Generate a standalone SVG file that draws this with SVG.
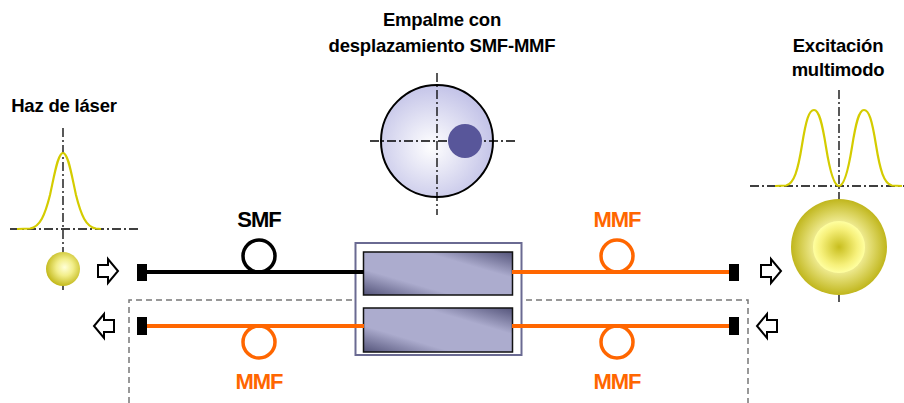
<svg xmlns="http://www.w3.org/2000/svg" width="904" height="403" viewBox="0 0 904 403">
  <defs>
    <style>
      .t { font-family: "Liberation Sans", Arial, sans-serif; font-weight: bold; font-size: 18.5px; letter-spacing: -0.2px; fill: #000; text-anchor: middle; }
      .lbl { font-size: 22px; letter-spacing: -1px; }
      .o { fill: #FF6600; }
      .axis { stroke: #000; stroke-width: 1.3; stroke-dasharray: 9 3 2 3; fill: none; }
      .curve { stroke: #D4CC00; stroke-width: 2.2; fill: none; }
      .blk { stroke: #000; stroke-width: 4; fill: none; }
      .org { stroke: #FF6600; stroke-width: 4; fill: none; }
      .arr { fill: #fff; stroke: #000; stroke-width: 2; stroke-linejoin: miter; }
      .plug { fill: #000; }
      .dash { stroke: #777; stroke-width: 1.5; stroke-dasharray: 6 4; fill: none; }
      .ferrule { fill: url(#ferr); stroke: #111; stroke-width: 1.5; }
    </style>
    <radialGradient id="spot" cx="0.55" cy="0.45" r="0.55">
      <stop offset="0" stop-color="#FFFFD8"/>
      <stop offset="0.45" stop-color="#F2EE8A"/>
      <stop offset="1" stop-color="#C4BA1E"/>
    </radialGradient>
    <radialGradient id="mmOuter" cx="0.5" cy="0.5" r="0.5">
      <stop offset="0.5" stop-color="#F2EE98"/>
      <stop offset="1" stop-color="#C0B61C"/>
    </radialGradient>
    <radialGradient id="mmInner" cx="0.5" cy="0.5" r="0.5">
      <stop offset="0" stop-color="#C8BE1E"/>
      <stop offset="0.7" stop-color="#F6F07A"/>
      <stop offset="1" stop-color="#FFFFA0"/>
    </radialGradient>
    <radialGradient id="splice" cx="0.45" cy="0.55" r="0.55">
      <stop offset="0" stop-color="#FFFFFF"/>
      <stop offset="1" stop-color="#C4C4E8"/>
    </radialGradient>
    <linearGradient id="ferr" x1="0" y1="1" x2="1" y2="0">
      <stop offset="0" stop-color="#54547A"/>
      <stop offset="0.3" stop-color="#ACACCE"/>
      <stop offset="0.7" stop-color="#ACACCE"/>
      <stop offset="1" stop-color="#54547A"/>
    </linearGradient>
  </defs>

  <rect width="904" height="403" fill="#fff"/>

  <!-- return path enclosure -->
  <path class="dash" d="M129 403 V300 H748 V403"/>

  <!-- laser beam profile -->
  <g id="laser">
    <text class="t" x="64" y="112">Haz de láser</text>
    <line class="axis" x1="63" y1="128" x2="63" y2="292"/>
    <line class="axis" x1="10" y1="229" x2="138" y2="229"/>
    <path class="curve" d="M17 229 L30 228.5 C40 227 45 215 50 195 C55 172 58 153 63 153 C68 153 71 172 76 195 C81 215 86 227 96 228.5 L101 229"/>
    <circle cx="63" cy="269" r="17" fill="url(#spot)"/>
  </g>

  <!-- offset splice cross-section -->
  <g id="splice-view">
    <text class="t" x="442" y="26">Empalme con</text>
    <text class="t" x="442" y="52">desplazamiento SMF-MMF</text>
    <circle cx="437" cy="141" r="56" fill="url(#splice)" stroke="#000" stroke-width="2"/>
    <line class="axis" x1="437" y1="73" x2="437" y2="215"/>
    <line class="axis" x1="370" y1="141" x2="515" y2="141"/>
    <circle cx="465" cy="141" r="17" fill="#58569A"/>
  </g>

  <!-- multimode excitation profile -->
  <g id="multimode">
    <text class="t" x="838" y="52">Excitación</text>
    <text class="t" x="838" y="76">multimodo</text>
    <line class="axis" x1="839" y1="90" x2="839" y2="302"/>
    <line class="axis" x1="750" y1="186" x2="904" y2="186"/>
    <path class="curve" d="M775 186 L786 185.5 C794 184 798 170 802 145 C806 120 809 110 814 110 C819 110 822 122 826 147 C830 172 834 186 839 186 C844 186 848 172 852 147 C856 122 859 110 864 110 C869 110 872 120 876 145 C880 170 884 184 892 185.5 L902 186"/>
    <circle cx="839" cy="247" r="48" fill="url(#mmOuter)"/>
    <circle cx="839" cy="247" r="26" fill="url(#mmInner)"/>
  </g>

  <!-- splice housing with two ferrules -->
  <g id="splice-box">
    <rect x="355.5" y="243" width="166" height="112" fill="#fff" stroke="#6A6A92" stroke-width="2"/>
    <rect class="ferrule" x="363.5" y="252" width="149" height="43"/>
    <rect class="ferrule" x="363.5" y="308" width="149" height="44"/>
  </g>

  <!-- fibres -->
  <g id="connectors">
    <line class="blk" x1="146" y1="272" x2="364" y2="272"/>
    <circle cx="259" cy="256" r="16" fill="none" stroke="#000" stroke-width="3.5"/>
    <line class="org" x1="512" y1="272" x2="731" y2="272"/>
    <circle cx="617" cy="256" r="16" fill="none" stroke="#FF6600" stroke-width="3.5"/>
    <line class="org" x1="146" y1="326" x2="364" y2="326"/>
    <circle cx="259" cy="342" r="16" fill="none" stroke="#FF6600" stroke-width="3.5"/>
    <line class="org" x1="512" y1="326" x2="731" y2="326"/>
    <circle cx="617" cy="342" r="16" fill="none" stroke="#FF6600" stroke-width="3.5"/>
    <rect class="plug" x="137" y="264" width="10" height="17"/>
    <rect class="plug" x="137" y="317" width="10" height="18"/>
    <rect class="plug" x="729" y="264" width="10" height="17"/>
    <rect class="plug" x="729" y="317" width="10" height="18"/>
  </g>

  <!-- direction arrows -->
  <g id="arrows">
    <path class="arr" d="M98 265 H108 V259 L118 271 L108 283 V277 H98 Z"/>
    <path class="arr" d="M761 265 H771 V259 L781 271 L771 283 V277 H761 Z"/>
    <path class="arr" d="M114 320 H104 V314 L94 326 L104 338 V332 H114 Z"/>
    <path class="arr" d="M777 320 H767 V314 L757 326 L767 338 V332 H777 Z"/>
  </g>

  <!-- fibre labels -->
  <g id="labels">
    <text class="t lbl" x="259" y="227">SMF</text>
    <text class="t lbl o" x="617" y="227">MMF</text>
    <text class="t lbl o" x="259" y="389">MMF</text>
    <text class="t lbl o" x="617" y="389">MMF</text>
  </g>
</svg>
